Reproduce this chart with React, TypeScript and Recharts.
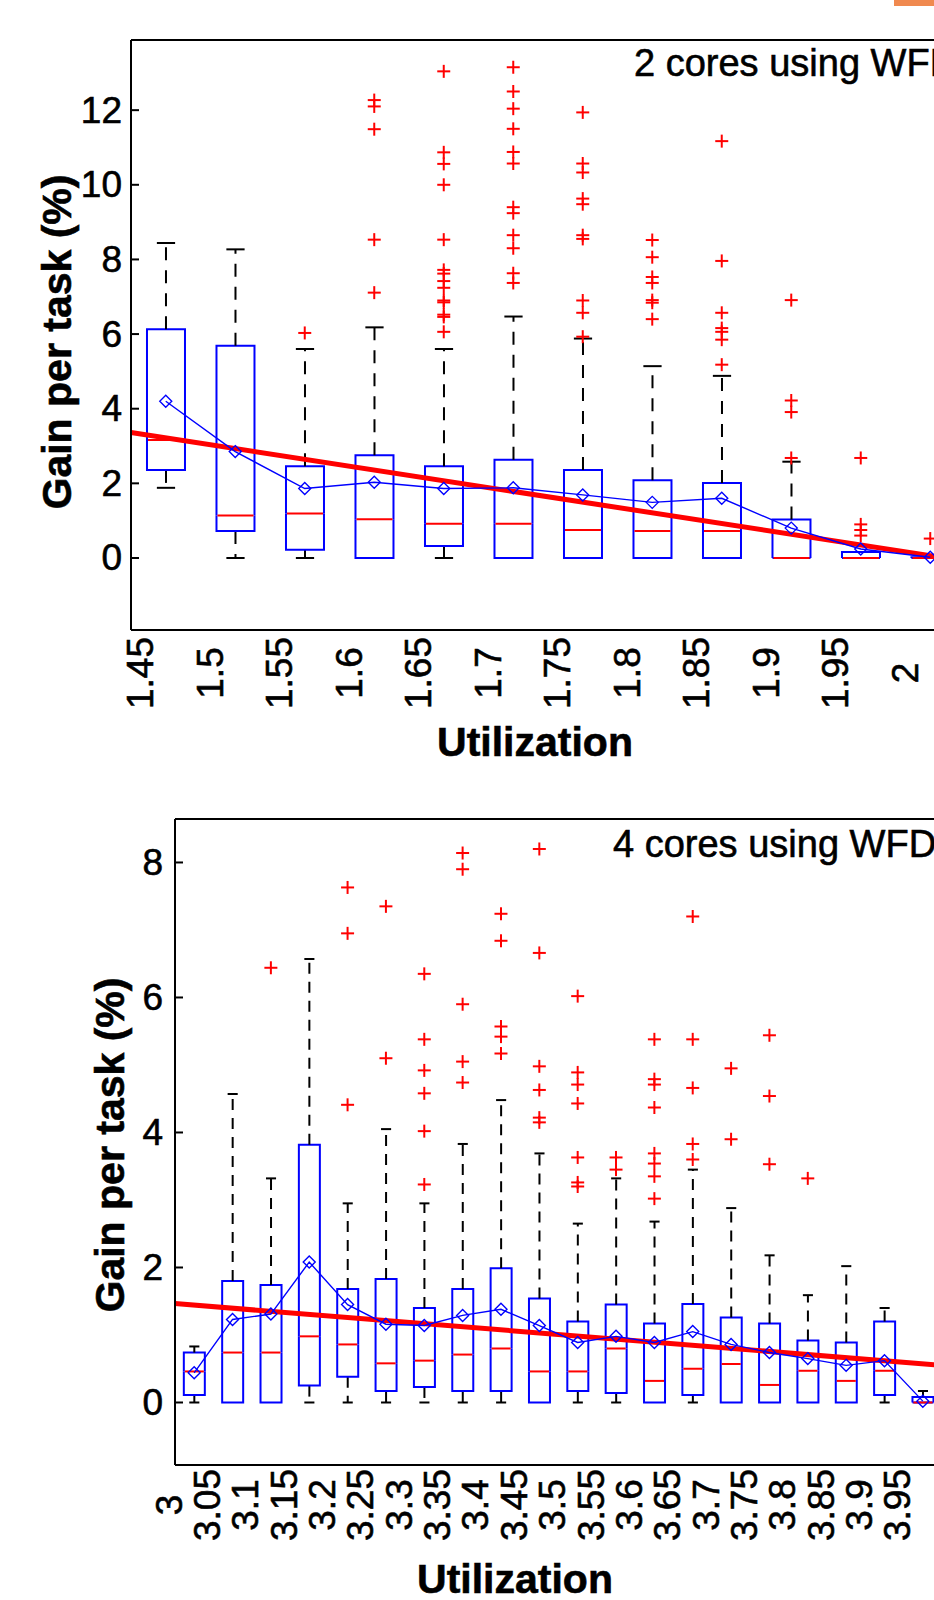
import React from 'react';
import { ComposedChart, Bar, Line, Scatter, XAxis, YAxis, ReferenceLine } from 'recharts';

const FONT = '"Liberation Sans", Arial, Helvetica, sans-serif';
const BLUE = '#0000FF';
const RED = '#FF0000';

// ---- 2 cores using WFD ----
const util2 = ['1.45', '1.5', '1.55', '1.6', '1.65', '1.7', '1.75', '1.8', '1.85', '1.9', '1.95', '2'];
const lo2 = [1.88, 0, 0, 0, 0, 0, 0, 0, 0, 0, 0, 0];
const q1_2 = [2.36, 0.72, 0.22, 0, 0.32, 0, 0, 0, 0, 0, 0, 0];
const med2 = [3.16, 1.14, 1.19, 1.04, 0.92, 0.92, 0.75, 0.72, 0.72, 0, 0, 0];
const q3_2 = [6.13, 5.69, 2.46, 2.75, 2.46, 2.63, 2.36, 2.08, 2.01, 1.03, 0.16, 0.02];
const hi2 = [8.44, 8.27, 5.6, 6.18, 5.6, 6.47, 5.88, 5.14, 4.88, 2.58, 0.16, 0.02];
const mean2 = [4.2, 2.85, 1.86, 2.03, 1.86, 1.88, 1.69, 1.49, 1.6, 0.8, 0.24, 0.02];
const out2 = [
  [],
  [],
  [6.03],
  [12.27, 12.1, 11.49, 8.53, 7.11],
  [13.04, 10.87, 10.56, 10.0, 8.53, 7.72, 7.62, 7.42, 7.24, 6.9, 6.85, 6.52, 6.46, 6.06],
  [13.15, 12.5, 12.04, 11.5, 10.88, 10.57, 9.4, 9.24, 8.65, 8.3, 7.63, 7.37],
  [11.94, 10.57, 10.33, 9.63, 9.48, 8.65, 8.55, 6.9, 6.57, 5.93],
  [8.52, 8.06, 7.53, 7.37, 6.91, 6.84, 6.4],
  [11.17, 7.96, 6.57, 6.16, 6.06, 5.85, 5.18],
  [6.91, 4.22, 3.91, 2.68],
  [2.68, 0.9, 0.75, 0.6],
  [0.52],
];
const trend2 = [3.36, -0.08]; // fit line at left / right edge of axis
const yTicks2 = [0, 2, 4, 6, 8, 10, 12];

// ---- 4 cores using WFD ----
const util4 = ['3', '3.05', '3.1', '3.15', '3.2', '3.25', '3.3', '3.35', '3.4', '3.45',
  '3.5', '3.55', '3.6', '3.65', '3.7', '3.75', '3.8', '3.85', '3.9', '3.95'];
const lo4 = [0, 0, 0, 0, 0, 0, 0, 0, 0, 0, 0, 0, 0, 0, 0, 0, 0, 0, 0, 0];
const q1_4 = [0.11, 0, 0, 0.25, 0.38, 0.17, 0.23, 0.17, 0.17, 0, 0.17, 0.14, 0, 0.11, 0, 0, 0, 0, 0.11, 0];
const med4 = [0.46, 0.74, 0.74, 0.98, 0.86, 0.58, 0.62, 0.71, 0.8, 0.46, 0.46, 0.8, 0.32, 0.5, 0.57, 0.26, 0.47, 0.32, 0.47, 0];
const q3_4 = [0.74, 1.8, 1.74, 3.82, 1.68, 1.83, 1.4, 1.68, 1.99, 1.54, 1.2, 1.45, 1.17, 1.46, 1.26, 1.17, 0.92, 0.89, 1.2, 0.08];
const hi4 = [0.83, 4.57, 3.32, 6.57, 2.95, 4.05, 2.95, 3.83, 4.48, 3.69, 2.65, 3.32, 2.68, 3.45, 2.88, 2.18, 1.59, 2.02, 1.4, 0.17];
const mean4 = [0.44, 1.23, 1.31, 2.08, 1.45, 1.16, 1.14, 1.29, 1.38, 1.14, 0.89, 0.98, 0.89, 1.05, 0.86, 0.74, 0.65, 0.55, 0.62, 0.02];
const out4 = [
  [],
  [],
  [6.44],
  [],
  [7.63, 6.95, 4.41],
  [7.35, 5.1],
  [6.35, 5.38, 4.92, 4.58, 4.02, 3.23],
  [8.14, 7.9, 5.9, 5.05, 4.74],
  [7.24, 6.84, 5.57, 5.42, 5.17],
  [8.2, 6.66, 4.98, 4.63, 4.22, 4.15],
  [6.02, 4.89, 4.71, 4.43, 3.63, 3.26, 3.2],
  [3.63, 3.45],
  [5.38, 4.79, 4.71, 4.37, 3.69, 3.54, 3.35, 3.02],
  [7.2, 5.38, 4.66, 3.83, 3.6],
  [4.95, 3.9],
  [5.44, 4.54, 3.53],
  [3.32],
  [],
  [],
  [],
];
const trend4 = [1.465, 0.55];
const yTicks4 = [0, 2, 4, 6, 8];

function buildBoxes(lo: number[], q1: number[], med: number[], q3: number[], hi: number[], mean: number[]) {
  return lo.map((v, i) => ({
    pos: i + 1,
    base: v,
    lw: q1[i] - v,
    lb: med[i] - q1[i],
    ub: q3[i] - med[i],
    uw: hi[i] - q3[i],
    mean: mean[i],
  }));
}

function buildOutliers(out: number[][]) {
  return out.flatMap((vals, i) => vals.map((v) => ({ pos: i + 1, v })));
}

const makeLowerWhisker = (dash: string) => (p: any) => {
  const { x, y, width, height } = p;
  if (!height || height < 0.5) return <g />;
  const cx = x + width / 2;
  const cap = width * 0.24;
  return (
    <g>
      <line x1={cx} x2={cx} y1={y} y2={y + height} stroke="#000" strokeWidth={2} strokeDasharray={dash} />
      <line x1={cx - cap} x2={cx + cap} y1={y + height} y2={y + height} stroke="#000" strokeWidth={2} />
    </g>
  );
};

const makeUpperWhisker = (dash: string) => (p: any) => {
  const { x, y, width, height } = p;
  if (!height || height < 0.5) return <g />;
  const cx = x + width / 2;
  const cap = width * 0.24;
  return (
    <g>
      <line x1={cx} x2={cx} y1={y + height} y2={y} stroke="#000" strokeWidth={2} strokeDasharray={dash} />
      <line x1={cx - cap} x2={cx + cap} y1={y} y2={y} stroke="#000" strokeWidth={2} />
    </g>
  );
};

const LowerBox = (p: any) => {
  const { x, y, width, height } = p;
  if (!height) return <g />;
  return (
    <path
      d={`M${x},${y} L${x},${y + height} L${x + width},${y + height} L${x + width},${y}`}
      fill="none"
      stroke={BLUE}
      strokeWidth={2}
    />
  );
};

const UpperBox = (p: any) => {
  const { x, y, width, height, payload } = p;
  const h = height || 0;
  return (
    <g>
      <path
        d={`M${x},${y + h} L${x},${y} L${x + width},${y} L${x + width},${y + h}`}
        fill="none"
        stroke={BLUE}
        strokeWidth={2}
      />
      {payload && payload.lb === 0 && (
        <line x1={x} x2={x + width} y1={y + h} y2={y + h} stroke={BLUE} strokeWidth={2} />
      )}
      <line x1={x + 1} x2={x + width - 1} y1={y + h} y2={y + h} stroke={RED} strokeWidth={2} />
    </g>
  );
};

const Empty = () => <g />;

const Plus = (p: any) => {
  const { cx, cy } = p;
  const s = 6.5;
  return (
    <g>
      <line x1={cx - s} x2={cx + s} y1={cy} y2={cy} stroke={RED} strokeWidth={2} />
      <line x1={cx} x2={cx} y1={cy - s} y2={cy + s} stroke={RED} strokeWidth={2} />
    </g>
  );
};

const Diamond = (p: any) => {
  const { cx, cy, index } = p;
  const s = 6;
  return (
    <polygon
      key={`d-${index}`}
      points={`${cx},${cy - s} ${cx + s},${cy} ${cx},${cy + s} ${cx - s},${cy}`}
      fill="none"
      stroke={BLUE}
      strokeWidth={1.4}
    />
  );
};

type PanelProps = {
  labels: string[];
  lo: number[];
  q1: number[];
  med: number[];
  q3: number[];
  hi: number[];
  mean: number[];
  outliers: number[][];
  trend: number[];
  yDomain: [number, number];
  yTicks: number[];
  width: number;
  height: number;
  top: number;
  axisWidth: number;
  labelGap: number;
  labelDy: number;
  dash: string;
};

function BoxPanel(props: PanelProps) {
  const { labels, lo, q1, med, q3, hi, mean, outliers, trend, yDomain, yTicks, width, height, top, axisWidth, labelGap, labelDy, dash } = props;
  const data = buildBoxes(lo, q1, med, q3, hi, mean);
  const outs = buildOutliers(outliers);
  const n = labels.length;
  const xDomain: [number, number] = [0.5, n + 0.5];
  const positions = labels.map((_, i) => i + 1);
  const frame = { stroke: '#000', strokeWidth: 2 };

  return (
    <ComposedChart width={width} height={height} data={data} margin={{ top, right: 0, bottom: 0, left: 0 }} barCategoryGap="23%">
      <XAxis
        dataKey="pos"
        type="number"
        domain={xDomain}
        ticks={positions}
        interval={0}
        allowDataOverflow
        height={90}
        axisLine={frame}
        tickLine={false}
        tickSize={0}
        tickMargin={0}
        tick={(p: any) => {
          const tx = p.x - 25;
          const ty = p.y + labelDy;
          return (
            <text
              x={tx}
              y={ty}
              transform={`rotate(-90 ${tx} ${ty})`}
              textAnchor="middle"
              dominantBaseline="central"
              fontSize={37}
              fontFamily={FONT}
              fill="#000"
              stroke="#000"
              strokeWidth={0.6}
            >
              {labels[p.payload.value - 1]}
            </text>
          );
        }}
      />
      <XAxis xAxisId="top" orientation="top" type="number" domain={xDomain} allowDataOverflow height={1} axisLine={frame} tick={false} tickLine={false} />
      <YAxis
        type="number"
        domain={yDomain}
        allowDataOverflow
        ticks={yTicks}
        interval={0}
        width={axisWidth}
        axisLine={frame}
        tickLine={frame}
        tickSize={-8}
        tickMargin={8 + labelGap}
        tick={(p: any) => (
          <text
            x={p.x}
            y={p.y}
            textAnchor="end"
            dominantBaseline="central"
            fontSize={37}
            fontFamily={FONT}
            fill="#000"
            stroke="#000"
            strokeWidth={0.6}
          >
            {p.payload.value}
          </text>
        )}
      />
      <YAxis yAxisId="r" orientation="right" type="number" domain={yDomain} allowDataOverflow ticks={yTicks} interval={0} width={1} axisLine={frame} tickLine={frame} tickSize={-8} tick={false} />

      <Bar dataKey="base" stackId="b" shape={Empty} isAnimationActive={false} />
      <Bar dataKey="lw" stackId="b" shape={makeLowerWhisker(dash)} isAnimationActive={false} />
      <Bar dataKey="lb" stackId="b" shape={LowerBox} isAnimationActive={false} />
      <Bar dataKey="ub" stackId="b" shape={UpperBox} isAnimationActive={false} />
      <Bar dataKey="uw" stackId="b" shape={makeUpperWhisker(dash)} isAnimationActive={false} />

      <Scatter data={outs} dataKey="v" shape={Plus} isAnimationActive={false} />

      <ReferenceLine
        segment={[{ x: xDomain[0], y: trend[0] }, { x: xDomain[1], y: trend[1] }]}
        stroke={RED}
        strokeWidth={5}
        ifOverflow="visible"
      />

      <Line dataKey="mean" stroke={BLUE} strokeWidth={1.4} dot={Diamond} activeDot={false} isAnimationActive={false} />
    </ComposedChart>
  );
}

const textBase: React.CSSProperties = {
  position: 'absolute',
  fontFamily: FONT,
  color: '#000',
  whiteSpace: 'nowrap',
  lineHeight: 1,
  WebkitTextStroke: '0.6px #000',
};

function AxisTitle({ text, cx, cy, rotate }: { text: string; cx: number; cy: number; rotate?: boolean }) {
  return (
    <div
      style={{
        ...textBase,
        left: cx,
        top: cy,
        fontSize: 41,
        fontWeight: 'bold',
        transform: `translate(-50%, -50%)${rotate ? ' rotate(-90deg)' : ''}`,
      }}
    >
      {text}
    </div>
  );
}

export default function App() {
  return (
    <div style={{ position: 'absolute', left: 0, top: 0, width: 934, height: 1600, overflow: 'hidden', background: '#fff' }}>
      <div style={{ position: 'absolute', left: 894, top: 0, width: 40, height: 6, background: '#F0894F' }} />

      <div style={{ position: 'absolute', left: 0, top: 0 }}>
        <BoxPanel
          labels={util2}
          lo={lo2}
          q1={q1_2}
          med={med2}
          q3={q3_2}
          hi={hi2}
          mean={mean2}
          outliers={out2}
          trend={trend2}
          yDomain={[-1.93, 13.88]}
          yTicks={yTicks2}
          width={966}
          height={720}
          top={39}
          axisWidth={131}
          labelGap={9}
          labelDy={43}
          dash="13 10"
        />
      </div>
      <div style={{ ...textBase, left: 634, top: 74, fontSize: 38, transform: 'translateY(-80%)' }}>2 cores using WFD</div>
      <AxisTitle text="Gain per task (%)" cx={57} cy={342} rotate />
      <AxisTitle text="Utilization" cx={535} cy={742} />

      <div style={{ position: 'absolute', left: 0, top: 760 }}>
        <BoxPanel
          labels={util4}
          lo={lo4}
          q1={q1_4}
          med={med4}
          q3={q3_4}
          hi={hi4}
          mean={mean4}
          outliers={out4}
          trend={trend4}
          yDomain={[-0.926, 8.644]}
          yTicks={yTicks4}
          width={943}
          height={795}
          top={58}
          axisWidth={175}
          labelGap={12}
          labelDy={40}
          dash="11 8"
        />
      </div>
      <div style={{ ...textBase, left: 613, top: 855, fontSize: 38, transform: 'translateY(-80%)' }}>4 cores using WFD</div>
      <AxisTitle text="Gain per task (%)" cx={110} cy={1145} rotate />
      <AxisTitle text="Utilization" cx={515} cy={1579} />
    </div>
  );
}
